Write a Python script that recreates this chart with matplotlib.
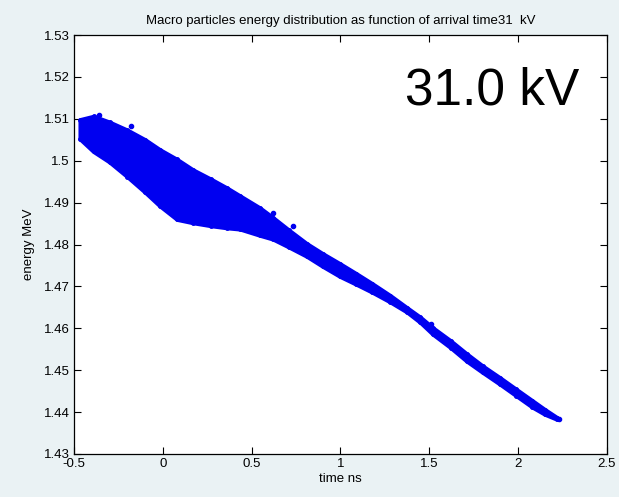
import matplotlib
matplotlib.use('Agg')
import matplotlib.pyplot as plt
import numpy as np

# band edges (time in ns, energy in MeV)
time_upper = [-0.466, -0.39, -0.30, -0.20, -0.10, -0.016, 0.08, 0.17, 0.27, 0.36, 0.434, 0.547,
              0.62, 0.71, 0.81, 0.90, 0.997, 1.09, 1.18, 1.28, 1.374, 1.45, 1.52, 1.62, 1.71,
              1.80, 1.897, 1.99, 2.08, 2.15, 2.218]
energy_upper = [1.5098, 1.5106, 1.5092, 1.5073, 1.5050, 1.5026, 1.5003, 1.4978, 1.4956, 1.4935,
                1.4916, 1.4887, 1.4864, 1.4834, 1.4802, 1.4778, 1.4754, 1.4730, 1.4706, 1.4678,
                1.4649, 1.4626, 1.4601, 1.4570, 1.4539, 1.4510, 1.4482, 1.4454, 1.4427, 1.4406,
                1.4387]
energy_lower = [1.5052, 1.5022, 1.4997, 1.4962, 1.4925, 1.4892, 1.4860, 1.4852, 1.4845, 1.4840,
                1.4837, 1.4822, 1.4813, 1.4794, 1.4772, 1.4748, 1.4724, 1.4705, 1.4686, 1.4663,
                1.4639, 1.4614, 1.4586, 1.4554, 1.4522, 1.4495, 1.4467, 1.4439, 1.4412, 1.4395,
                1.4383]

# a few stray particles sticking out of the band
stray_t = [-0.36, -0.18, -0.08, 0.09, 0.62, 0.73, 1.51, 2.23]
stray_e = [1.5110, 1.5082, 1.5040, 1.4995, 1.4876, 1.4845, 1.4610, 1.4384]

bg = '#eaf2f4'
blue = '#0000f0'

plt.rcParams['font.family'] = ['Liberation Sans', 'DejaVu Sans']

fig = plt.figure(figsize=(6.19, 4.97), dpi=100, facecolor=bg)
ax = fig.add_axes([74 / 619, 1 - 454 / 497, 533 / 619, 419 / 497])

ax.fill_between(time_upper, energy_lower, energy_upper, facecolor=blue,
                edgecolor=blue, lw=3, joinstyle='round')
ax.plot(time_upper, energy_upper, '.', color=blue, ms=5)
ax.plot(time_upper, energy_lower, '.', color=blue, ms=5)
ax.plot(stray_t, stray_e, '.', color=blue, ms=6)

ax.text(1.363, 1.5133, '31.0 kV', fontsize=37, ha='left', va='baseline')

ax.set_xlim(-0.5, 2.5)
ax.set_ylim(1.43, 1.53)
ax.set_xticks(np.arange(-0.5, 2.51, 0.5))
ax.set_xticklabels(['-0.5', '0', '0.5', '1', '1.5', '2', '2.5'])
ax.set_yticks(np.arange(1.43, 1.5301, 0.01))
ax.set_yticklabels(['1.43', '1.44', '1.45', '1.46', '1.47', '1.48', '1.49', '1.5', '1.51', '1.52', '1.53'])
ax.tick_params(direction='in', top=True, right=True, length=5, labelsize=9.5, pad=3)
for s in ax.spines.values():
    s.set_linewidth(0.9)

ax.set_title('Macro particles energy distribution as function of arrival time31  kV',
             fontsize=9.5, pad=8)
ax.set_xlabel('time ns', fontsize=9.5, labelpad=2)
ax.set_ylabel('energy MeV', fontsize=9.5, labelpad=6)

fig.savefig('out.png', dpi=100, facecolor=bg)
